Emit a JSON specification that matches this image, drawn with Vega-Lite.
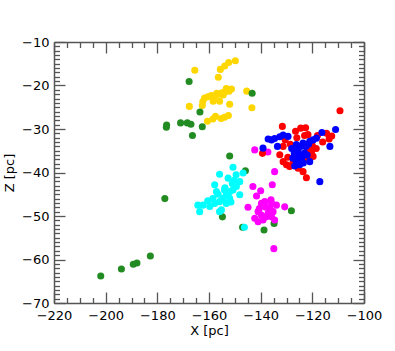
{
  "$schema": "https://vega.github.io/schema/vega-lite/v6.json",
  "width": 310,
  "height": 261,
  "autosize": {"type": "none"},
  "padding": {"left": 54, "top": 42, "right": 31, "bottom": 48},
  "config": {
    "view": {"stroke": null},
    "font": "DejaVu Sans",
    "axis": {
      "grid": false,
      "labelFont": "DejaVu Sans",
      "labelFontSize": 13,
      "labelColor": "#000000",
      "titleFont": "DejaVu Sans",
      "titleFontSize": 13,
      "titleFontWeight": "normal",
      "titleColor": "#000000",
      "domainColor": "#555555",
      "domainWidth": 1.5,
      "tickColor": "#555555",
      "tickWidth": 1.3,
      "labelOverlap": false,
      "labelFlush": false
    }
  },
  "data": {
    "values": [
      {"x": -165.5, "z": -16.5, "g": "yellow"},
      {"x": -167.6, "z": -24.8, "g": "yellow"},
      {"x": -149.8, "z": -14.3, "g": "yellow"},
      {"x": -152.4, "z": -14.7, "g": "yellow"},
      {"x": -153.9, "z": -15.5, "g": "yellow"},
      {"x": -155.6, "z": -16.3, "g": "yellow"},
      {"x": -156.4, "z": -18.1, "g": "yellow"},
      {"x": -151.3, "z": -20.8, "g": "yellow"},
      {"x": -152.2, "z": -21.3, "g": "yellow"},
      {"x": -153.0, "z": -21.0, "g": "yellow"},
      {"x": -153.9, "z": -21.5, "g": "yellow"},
      {"x": -155.0, "z": -21.7, "g": "yellow"},
      {"x": -156.5, "z": -22.0, "g": "yellow"},
      {"x": -157.8, "z": -22.4, "g": "yellow"},
      {"x": -159.1, "z": -22.3, "g": "yellow"},
      {"x": -160.4, "z": -22.6, "g": "yellow"},
      {"x": -161.7, "z": -22.9, "g": "yellow"},
      {"x": -162.4, "z": -23.7, "g": "yellow"},
      {"x": -158.4, "z": -23.6, "g": "yellow"},
      {"x": -155.9, "z": -23.6, "g": "yellow"},
      {"x": -152.0, "z": -24.3, "g": "yellow"},
      {"x": -162.6, "z": -24.6, "g": "yellow"},
      {"x": -154.5, "z": -22.2, "g": "yellow"},
      {"x": -157.0, "z": -21.8, "g": "yellow"},
      {"x": -153.3, "z": -20.7, "g": "yellow"},
      {"x": -145.4, "z": -21.3, "g": "yellow"},
      {"x": -143.4, "z": -25.1, "g": "yellow"},
      {"x": -152.5, "z": -26.9, "g": "yellow"},
      {"x": -154.0, "z": -27.3, "g": "yellow"},
      {"x": -155.3, "z": -27.6, "g": "yellow"},
      {"x": -157.5, "z": -27.1, "g": "yellow"},
      {"x": -158.5, "z": -27.7, "g": "yellow"},
      {"x": -160.6, "z": -28.2, "g": "yellow"},
      {"x": -167.7, "z": -19.1, "g": "green"},
      {"x": -163.5, "z": -26.1, "g": "green"},
      {"x": -176.4, "z": -29.1, "g": "green"},
      {"x": -176.5, "z": -29.6, "g": "green"},
      {"x": -171.0, "z": -28.6, "g": "green"},
      {"x": -168.4, "z": -28.6, "g": "green"},
      {"x": -167.0, "z": -28.9, "g": "green"},
      {"x": -166.4, "z": -31.5, "g": "green"},
      {"x": -162.6, "z": -29.5, "g": "green"},
      {"x": -143.3, "z": -21.8, "g": "green"},
      {"x": -152.0, "z": -36.2, "g": "green"},
      {"x": -145.9, "z": -39.6, "g": "green"},
      {"x": -154.8, "z": -50.2, "g": "green"},
      {"x": -147.0, "z": -52.6, "g": "green"},
      {"x": -128.1, "z": -48.8, "g": "green"},
      {"x": -138.7, "z": -53.2, "g": "green"},
      {"x": -134.8, "z": -51.7, "g": "green"},
      {"x": -177.1, "z": -46.0, "g": "green"},
      {"x": -182.7, "z": -59.2, "g": "green"},
      {"x": -187.9, "z": -60.8, "g": "green"},
      {"x": -189.3, "z": -61.1, "g": "green"},
      {"x": -193.9, "z": -62.2, "g": "green"},
      {"x": -201.9, "z": -63.8, "g": "green"},
      {"x": -150.7, "z": -38.8, "g": "cyan"},
      {"x": -155.9, "z": -40.4, "g": "cyan"},
      {"x": -152.6, "z": -41.3, "g": "cyan"},
      {"x": -146.8, "z": -40.1, "g": "cyan"},
      {"x": -148.1, "z": -42.1, "g": "cyan"},
      {"x": -149.4, "z": -43.2, "g": "cyan"},
      {"x": -150.7, "z": -44.0, "g": "cyan"},
      {"x": -152.0, "z": -44.4, "g": "cyan"},
      {"x": -153.3, "z": -45.1, "g": "cyan"},
      {"x": -154.6, "z": -45.9, "g": "cyan"},
      {"x": -155.9, "z": -46.7, "g": "cyan"},
      {"x": -157.8, "z": -47.1, "g": "cyan"},
      {"x": -159.7, "z": -47.8, "g": "cyan"},
      {"x": -162.3, "z": -47.5, "g": "cyan"},
      {"x": -164.3, "z": -47.5, "g": "cyan"},
      {"x": -163.6, "z": -49.0, "g": "cyan"},
      {"x": -157.8, "z": -42.8, "g": "cyan"},
      {"x": -157.1, "z": -44.4, "g": "cyan"},
      {"x": -148.1, "z": -45.1, "g": "cyan"},
      {"x": -152.0, "z": -45.9, "g": "cyan"},
      {"x": -153.3, "z": -47.1, "g": "cyan"},
      {"x": -155.2, "z": -48.6, "g": "cyan"},
      {"x": -155.9, "z": -49.0, "g": "cyan"},
      {"x": -146.3, "z": -52.6, "g": "cyan"},
      {"x": -151.0, "z": -42.5, "g": "cyan"},
      {"x": -153.8, "z": -43.5, "g": "cyan"},
      {"x": -149.5, "z": -40.5, "g": "cyan"},
      {"x": -154.0, "z": -44.0, "g": "cyan"},
      {"x": -156.5, "z": -45.0, "g": "cyan"},
      {"x": -151.5, "z": -46.8, "g": "cyan"},
      {"x": -158.5, "z": -46.0, "g": "cyan"},
      {"x": -160.5, "z": -46.5, "g": "cyan"},
      {"x": -150.2, "z": -41.8, "g": "cyan"},
      {"x": -134.6, "z": -39.8, "g": "magenta"},
      {"x": -135.5, "z": -42.8, "g": "magenta"},
      {"x": -143.0, "z": -43.2, "g": "magenta"},
      {"x": -140.0, "z": -44.2, "g": "magenta"},
      {"x": -141.6, "z": -45.4, "g": "magenta"},
      {"x": -144.9, "z": -48.0, "g": "magenta"},
      {"x": -142.3, "z": -34.8, "g": "magenta"},
      {"x": -137.2, "z": -35.3, "g": "magenta"},
      {"x": -139.7, "z": -47.1, "g": "magenta"},
      {"x": -138.4, "z": -46.7, "g": "magenta"},
      {"x": -135.8, "z": -47.1, "g": "magenta"},
      {"x": -133.9, "z": -47.5, "g": "magenta"},
      {"x": -130.7, "z": -47.9, "g": "magenta"},
      {"x": -141.0, "z": -49.0, "g": "magenta"},
      {"x": -139.7, "z": -49.8, "g": "magenta"},
      {"x": -137.1, "z": -49.4, "g": "magenta"},
      {"x": -135.2, "z": -49.0, "g": "magenta"},
      {"x": -142.3, "z": -50.5, "g": "magenta"},
      {"x": -141.0, "z": -51.3, "g": "magenta"},
      {"x": -139.1, "z": -50.9, "g": "magenta"},
      {"x": -137.8, "z": -50.2, "g": "magenta"},
      {"x": -135.8, "z": -50.2, "g": "magenta"},
      {"x": -134.6, "z": -50.9, "g": "magenta"},
      {"x": -138.0, "z": -48.0, "g": "magenta"},
      {"x": -136.5, "z": -48.3, "g": "magenta"},
      {"x": -140.5, "z": -48.3, "g": "magenta"},
      {"x": -134.9, "z": -57.5, "g": "magenta"},
      {"x": -136.0, "z": -46.3, "g": "magenta"},
      {"x": -109.3, "z": -25.8, "g": "red"},
      {"x": -131.6, "z": -29.4, "g": "red"},
      {"x": -124.5, "z": -29.8, "g": "red"},
      {"x": -122.6, "z": -29.7, "g": "red"},
      {"x": -121.7, "z": -31.3, "g": "red"},
      {"x": -112.5, "z": -31.6, "g": "red"},
      {"x": -113.5, "z": -32.3, "g": "red"},
      {"x": -139.3, "z": -35.6, "g": "red"},
      {"x": -132.6, "z": -35.9, "g": "red"},
      {"x": -131.3, "z": -34.0, "g": "red"},
      {"x": -131.3, "z": -37.5, "g": "red"},
      {"x": -130.0, "z": -38.2, "g": "red"},
      {"x": -128.8, "z": -38.6, "g": "red"},
      {"x": -123.6, "z": -39.8, "g": "red"},
      {"x": -122.3, "z": -41.2, "g": "red"},
      {"x": -120.3, "z": -35.2, "g": "red"},
      {"x": -119.7, "z": -36.3, "g": "red"},
      {"x": -127.0, "z": -35.0, "g": "red"},
      {"x": -128.5, "z": -33.5, "g": "red"},
      {"x": -126.0, "z": -32.0, "g": "red"},
      {"x": -123.0, "z": -31.5, "g": "red"},
      {"x": -125.5, "z": -39.0, "g": "red"},
      {"x": -127.5, "z": -37.8, "g": "red"},
      {"x": -121.5, "z": -37.0, "g": "red"},
      {"x": -118.5, "z": -34.5, "g": "red"},
      {"x": -116.0, "z": -33.0, "g": "red"},
      {"x": -129.5, "z": -36.5, "g": "red"},
      {"x": -124.0, "z": -37.5, "g": "red"},
      {"x": -120.0, "z": -33.8, "g": "red"},
      {"x": -126.5, "z": -30.5, "g": "red"},
      {"x": -130.5, "z": -32.5, "g": "red"},
      {"x": -122.0, "z": -34.5, "g": "red"},
      {"x": -118.0, "z": -31.5, "g": "red"},
      {"x": -114.5, "z": -31.0, "g": "red"},
      {"x": -111.0, "z": -30.1, "g": "blue"},
      {"x": -116.3, "z": -30.8, "g": "blue"},
      {"x": -113.2, "z": -34.0, "g": "blue"},
      {"x": -117.1, "z": -42.1, "g": "blue"},
      {"x": -121.0, "z": -37.5, "g": "blue"},
      {"x": -137.1, "z": -32.3, "g": "blue"},
      {"x": -135.8, "z": -32.5, "g": "blue"},
      {"x": -134.6, "z": -32.2, "g": "blue"},
      {"x": -132.6, "z": -31.8, "g": "blue"},
      {"x": -131.3, "z": -31.4, "g": "blue"},
      {"x": -129.4, "z": -31.7, "g": "blue"},
      {"x": -139.1, "z": -34.4, "g": "blue"},
      {"x": -126.2, "z": -33.6, "g": "blue"},
      {"x": -123.6, "z": -33.2, "g": "blue"},
      {"x": -121.0, "z": -32.8, "g": "blue"},
      {"x": -119.7, "z": -32.5, "g": "blue"},
      {"x": -118.4, "z": -32.1, "g": "blue"},
      {"x": -124.9, "z": -35.9, "g": "blue"},
      {"x": -127.5, "z": -36.7, "g": "blue"},
      {"x": -126.2, "z": -37.8, "g": "blue"},
      {"x": -124.9, "z": -38.2, "g": "blue"},
      {"x": -125.5, "z": -35.0, "g": "blue"},
      {"x": -124.0, "z": -36.5, "g": "blue"},
      {"x": -123.0, "z": -35.5, "g": "blue"},
      {"x": -126.0, "z": -34.8, "g": "blue"},
      {"x": -125.0, "z": -37.0, "g": "blue"},
      {"x": -127.0, "z": -35.5, "g": "blue"},
      {"x": -122.5, "z": -34.0, "g": "blue"},
      {"x": -123.5, "z": -37.8, "g": "blue"},
      {"x": -126.8, "z": -38.5, "g": "blue"},
      {"x": -125.8, "z": -36.2, "g": "blue"},
      {"x": -122.0, "z": -36.0, "g": "blue"},
      {"x": -128.0, "z": -34.5, "g": "blue"},
      {"x": -121.5, "z": -33.5, "g": "blue"},
      {"x": -124.5, "z": -34.0, "g": "blue"},
      {"x": -133.5, "z": -34.0, "g": "blue"}
    ]
  },
  "resolve": {"axis": {"x": "independent", "y": "independent"}},
  "layer": [
    {
      "mark": {"type": "point", "opacity": 0},
      "encoding": {
        "x": {"field": "x", "type": "quantitative", "scale": {"domain": [-220, -100], "nice": false, "zero": false},
          "axis": {"orient": "bottom", "title": null, "labels": false, "domain": false, "tickSize": -5.5, "values": [-215, -210, -205, -195, -190, -185, -175, -170, -165, -155, -150, -145, -135, -130, -125, -115, -110, -105]}},
        "y": {"field": "z", "type": "quantitative", "scale": {"domain": [-70, -10], "nice": false, "zero": false},
          "axis": {"orient": "left", "title": null, "labels": false, "domain": false, "tickSize": -5.5, "values": [-69, -68, -67, -66, -65, -64, -63, -62, -61, -59, -58, -57, -56, -55, -54, -53, -52, -51, -49, -48, -47, -46, -45, -44, -43, -42, -41, -39, -38, -37, -36, -35, -34, -33, -32, -31, -29, -28, -27, -26, -25, -24, -23, -22, -21, -19, -18, -17, -16, -15, -14, -13, -12, -11]}}
      }
    },
    {
      "mark": {"type": "point", "opacity": 0},
      "encoding": {
        "x": {"field": "x", "type": "quantitative", "scale": {"domain": [-220, -100], "nice": false, "zero": false},
          "axis": {"orient": "top", "title": null, "labels": false, "domain": false, "tickSize": -5.5, "values": [-215, -210, -205, -195, -190, -185, -175, -170, -165, -155, -150, -145, -135, -130, -125, -115, -110, -105]}},
        "y": {"field": "z", "type": "quantitative", "scale": {"domain": [-70, -10], "nice": false, "zero": false},
          "axis": {"orient": "right", "title": null, "labels": false, "domain": false, "tickSize": -5.5, "values": [-69, -68, -67, -66, -65, -64, -63, -62, -61, -59, -58, -57, -56, -55, -54, -53, -52, -51, -49, -48, -47, -46, -45, -44, -43, -42, -41, -39, -38, -37, -36, -35, -34, -33, -32, -31, -29, -28, -27, -26, -25, -24, -23, -22, -21, -19, -18, -17, -16, -15, -14, -13, -12, -11]}}
      }
    },
    {
      "mark": {"type": "point", "opacity": 0},
      "encoding": {
        "x": {"field": "x", "type": "quantitative", "scale": {"domain": [-220, -100], "nice": false, "zero": false},
          "axis": {"orient": "top", "title": null, "labels": false, "domain": true, "tickSize": -11, "values": [-220, -200, -180, -160, -140, -120, -100]}},
        "y": {"field": "z", "type": "quantitative", "scale": {"domain": [-70, -10], "nice": false, "zero": false},
          "axis": {"orient": "right", "title": null, "labels": false, "domain": true, "tickSize": -11, "values": [-70, -60, -50, -40, -30, -20, -10]}}
      }
    },
    {
      "mark": {"type": "circle", "size": 50, "opacity": 1},
      "encoding": {
        "x": {"field": "x", "type": "quantitative", "scale": {"domain": [-220, -100], "nice": false, "zero": false},
          "axis": {"orient": "bottom", "title": "X [pc]", "tickSize": -11, "labelPadding": 17, "titlePadding": 2, "values": [-220, -200, -180, -160, -140, -120, -100]}},
        "y": {"field": "z", "type": "quantitative", "scale": {"domain": [-70, -10], "nice": false, "zero": false},
          "axis": {"orient": "left", "title": "Z [pc]", "tickSize": -11, "labelPadding": 16, "titlePadding": 5, "values": [-70, -60, -50, -40, -30, -20, -10]}},
        "color": {"field": "g", "type": "nominal", "legend": null,
          "scale": {"domain": ["yellow", "green", "cyan", "magenta", "red", "blue"], "range": ["#FFD700", "#228B22", "#00FFFF", "#FF00FF", "#FF0000", "#0000FF"]}},
        "order": {"value": 0}
      }
    }
  ]
}
